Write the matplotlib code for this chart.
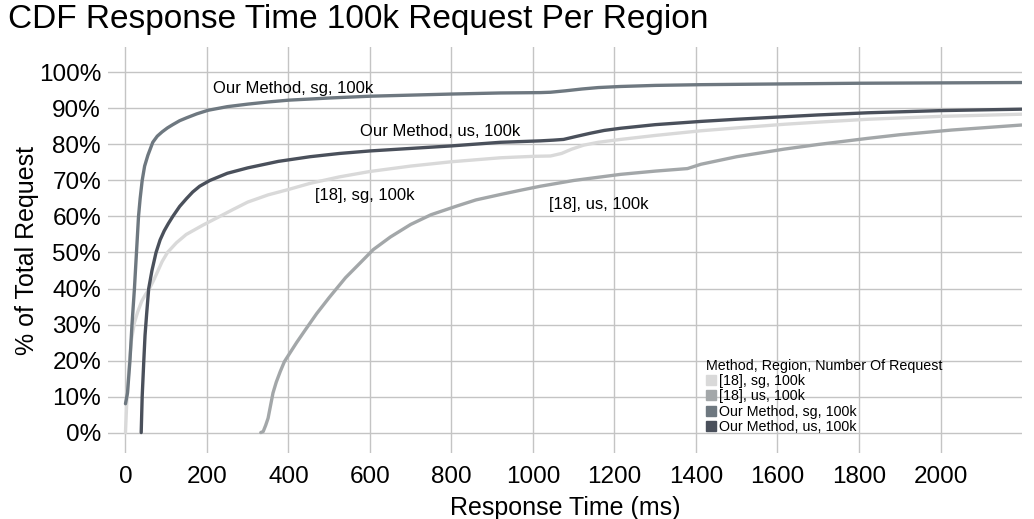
import matplotlib
matplotlib.use('Agg')
import matplotlib.pyplot as plt
from matplotlib.lines import Line2D
from matplotlib.ticker import FuncFormatter

plt.rcParams['font.family'] = ['Liberation Sans', 'DejaVu Sans']

# response time (ms) and cumulative % of requests
ref_sg_ms = [0, 3, 6, 10, 15, 22, 30, 40, 50, 59, 70, 80, 90, 103, 125, 149, 190, 231, 265, 300, 350, 400, 453,
             525, 600, 700, 800, 920, 1000, 1043, 1070, 1095, 1124, 1160, 1215, 1300, 1412, 1500, 1616, 1700, 1822,
             2000, 2199]
ref_sg_pct = [0, 8, 14, 20, 26, 30.5, 33.5, 36.5, 38.5, 40, 42.5, 45, 47.5, 50, 52.7, 55, 57.6, 60, 62, 64, 66, 67.5,
              69.2, 71, 72.5, 74, 75.2, 76.3, 76.7, 76.8, 77.5, 78.7, 79.8, 80.6, 81.4, 82.5, 83.8, 84.6, 85.6, 86.2,
              87, 87.8, 88.4]

ref_us_ms = [332, 338, 344, 350, 356, 362, 370, 380, 390, 403, 420, 440, 469, 500, 540, 575, 608, 650, 700, 750, 813,
             860, 920, 970, 1018, 1100, 1215, 1300, 1379, 1412, 1500, 1616, 1700, 1822, 1900, 2027, 2199]
ref_us_pct = [0, 0.3, 2, 4, 7.5, 11, 14, 17, 19.7, 22, 25, 28.3, 33, 37.5, 43, 47, 50.8, 54.3, 57.8, 60.5, 62.9,
              64.6, 66.1, 67.3, 68.4, 70, 71.7, 72.6, 73.3, 74.5, 76.6, 78.7, 80, 81.7, 82.7, 84, 85.4]

our_sg_ms = [0, 5, 11, 16, 22, 27, 32, 36, 41, 47, 55, 67, 78, 90, 103, 116, 133, 150, 175, 203, 250, 300, 350, 400,
             500, 600, 700, 800, 920, 1018, 1043, 1080, 1120, 1160, 1215, 1300, 1412, 1600, 1800, 2000, 2199]
our_sg_pct = [8, 11, 20, 30, 40, 50, 60, 65, 70, 74, 77, 80.6, 82.3, 83.5, 84.6, 85.5, 86.6, 87.4, 88.5, 89.5, 90.5,
              91.2, 91.8, 92.3, 92.9, 93.4, 93.7, 94, 94.3, 94.4, 94.5, 94.9, 95.4, 95.8, 96.1, 96.4, 96.6, 96.8, 97,
              97.1, 97.2]

our_us_ms = [38.6, 41, 45, 48, 52, 57, 65, 75, 85, 95, 105, 116, 133, 150, 165, 182, 207, 250, 300, 375, 453, 525,
             600, 700, 800, 920, 1018, 1050, 1075, 1105, 1140, 1175, 1215, 1300, 1412, 1500, 1616, 1700, 1822, 2000,
             2199]
our_us_pct = [0, 10, 20, 27, 33, 40, 45, 50, 53.5, 56, 58, 60, 62.8, 65, 66.8, 68.4, 70, 72, 73.5, 75.3, 76.6, 77.5,
              78.2, 78.9, 79.6, 80.6, 81, 81.2, 81.4, 82.2, 83.1, 83.9, 84.5, 85.5, 86.4, 87, 87.7, 88.2, 88.8, 89.4,
              89.8]

names = ['[18], sg, 100k', '[18], us, 100k', 'Our Method, sg, 100k', 'Our Method, us, 100k']
colors = ['#d9d9d9', '#a3a7a9', '#6e7880', '#4a505b']

fig = plt.figure(figsize=(10.34, 5.19), dpi=100)
ax = fig.add_axes([0.1044, 0.127, 0.884, 0.782])

series = [(ref_sg_ms, ref_sg_pct), (ref_us_ms, ref_us_pct), (our_sg_ms, our_sg_pct), (our_us_ms, our_us_pct)]
for (xs, ys), c in zip(series, colors):
    ax.plot(xs, ys, color=c, lw=2.4, solid_capstyle='round', solid_joinstyle='round')

ax.set_xlim(-43, 2200)
ax.set_ylim(-5.7, 107)
ax.set_xticks(range(0, 2001, 200))
ax.set_yticks(range(0, 101, 10))
ax.yaxis.set_major_formatter(FuncFormatter(lambda v, p: f'{v:.0f}%'))
ax.tick_params(length=0, labelsize=17.5)
ax.tick_params(axis='x', pad=9)
ax.tick_params(axis='y', pad=5)
ax.grid(True, color='#c4c4c4', lw=1)
ax.set_axisbelow(True)
for s in ax.spines.values():
    s.set_visible(False)

ax.set_xlabel('Response Time (ms)', fontsize=18, labelpad=6)
ax.set_ylabel('% of Total Request', fontsize=18, labelpad=0)

# inline labels
ax.text(215, 95.6, 'Our Method, sg, 100k', fontsize=12, va='center')
ax.text(576, 83.7, 'Our Method, us, 100k', fontsize=12, va='center')
ax.text(465, 65.8, '[18], sg, 100k', fontsize=12, va='center')
ax.text(1040, 63.3, '[18], us, 100k', fontsize=12, va='center')

handles = [Line2D([], [], ls='none', marker='s', markersize=7, color=c) for c in colors]
leg = ax.legend(handles, names, loc='upper left', bbox_to_anchor=(699 / 1034, 1 - 352 / 519),
                bbox_transform=fig.transFigure, title='Method, Region, Number Of Request', frameon=False,
                fontsize=10.3, title_fontsize=10.3, handlelength=0.7, handletextpad=0.2, labelspacing=0.08,
                borderpad=0, alignment='left')

fig.text(0.008, 0.962, 'CDF Response Time 100k Request Per Region', fontsize=24, va='center', ha='left')

fig.savefig('out.png', dpi=100)
